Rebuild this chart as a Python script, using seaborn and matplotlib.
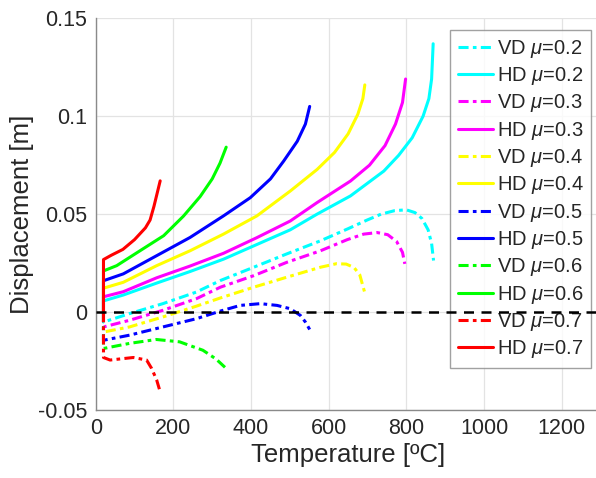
import matplotlib
matplotlib.use("Agg")
import matplotlib.pyplot as plt
import seaborn as sns

# Temperature [ºC] and displacement [m] for each friction coefficient.
# VD = vertical displacement, HD = horizontal displacement.
t_vd_02 = [20, 20, 87, 173, 259, 321, 407, 492, 579, 648, 699, 735, 770, 800, 822, 840, 856, 865, 870]
d_vd_02 = [0, -0.0051, -0.0008, 0.0043, 0.0102, 0.0161, 0.0229, 0.0297, 0.0364, 0.0424,
           0.0470, 0.0500, 0.0518, 0.0522, 0.0508, 0.0478, 0.0420, 0.0350, 0.0263]
t_hd_02 = [20, 20, 71, 157, 243, 329, 415, 501, 570, 656, 742, 780, 815, 843, 858, 865, 869]
d_hd_02 = [0, 0.0057, 0.0087, 0.0148, 0.0207, 0.0270, 0.0345, 0.0420, 0.0500, 0.0593,
           0.0720, 0.0800, 0.0890, 0.1000, 0.1090, 0.1190, 0.1370]

t_vd_03 = [20, 20, 87, 173, 259, 321, 407, 492, 579, 648, 690, 725, 752, 775, 790, 796]
d_vd_03 = [0, -0.0076, -0.0042, 0.0009, 0.0068, 0.0127, 0.0186, 0.0254, 0.0313, 0.0370,
           0.0398, 0.0406, 0.0395, 0.0360, 0.0305, 0.0246]
t_hd_03 = [20, 20, 71, 157, 243, 329, 415, 501, 570, 656, 705, 745, 772, 790, 798]
d_hd_03 = [0, 0.0078, 0.0104, 0.0175, 0.0235, 0.0300, 0.0380, 0.0465, 0.0559, 0.0669,
           0.0750, 0.0850, 0.0960, 0.1070, 0.1190]

t_vd_04 = [20, 20, 87, 173, 259, 321, 407, 492, 579, 620, 645, 665, 680, 692]
d_vd_04 = [0, -0.0102, -0.0076, -0.0025, 0.0030, 0.0072, 0.0127, 0.0178, 0.0229, 0.0247,
           0.0245, 0.0228, 0.0190, 0.0105]
t_hd_04 = [20, 20, 71, 157, 243, 329, 415, 501, 570, 615, 650, 675, 688, 693]
d_hd_04 = [0, 0.0122, 0.0152, 0.0237, 0.0313, 0.0398, 0.0491, 0.0618, 0.0728, 0.0815,
           0.0910, 0.1010, 0.1090, 0.1160]

t_vd_05 = [20, 20, 87, 173, 259, 321, 372, 424, 467, 501, 527, 540, 551]
d_vd_05 = [0, -0.0144, -0.0118, -0.0076, -0.0034, 0.0005, 0.0034, 0.0043, 0.0034, 0.0017,
           -0.0017, -0.0051, -0.0089]
t_hd_05 = [20, 20, 71, 157, 243, 329, 398, 450, 484, 519, 540, 551]
d_hd_05 = [0, 0.0160, 0.0195, 0.0288, 0.0381, 0.0491, 0.0584, 0.0680, 0.0771, 0.0872,
           0.0960, 0.1050]

t_vd_06 = [20, 20, 87, 156, 216, 276, 310, 336]
d_vd_06 = [0, -0.0186, -0.0160, -0.0140, -0.0152, -0.0195, -0.0240, -0.0288]
t_hd_06 = [20, 20, 54, 114, 175, 226, 269, 300, 320, 336]
d_hd_06 = [0, 0.0210, 0.0237, 0.0313, 0.0390, 0.0490, 0.0590, 0.0680, 0.0760, 0.0842]

t_vd_07 = [20, 20, 37, 97, 131, 144, 157, 164]
d_vd_07 = [0, -0.0232, -0.0245, -0.0232, -0.0245, -0.0288, -0.0347, -0.0394]
t_hd_07 = [20, 20, 40, 70, 100, 128, 140, 150, 166]
d_hd_07 = [0, 0.0268, 0.0290, 0.0320, 0.0370, 0.0430, 0.0470, 0.0540, 0.0670]

mu_values = ["0.2", "0.3", "0.4", "0.5", "0.6", "0.7"]
mu_colors = ["#00ffff", "#ff00ff", "#ffff00", "#0000ff", "#00ff00", "#ff0000"]
series = [
    (t_vd_02, d_vd_02, t_hd_02, d_hd_02),
    (t_vd_03, d_vd_03, t_hd_03, d_hd_03),
    (t_vd_04, d_vd_04, t_hd_04, d_hd_04),
    (t_vd_05, d_vd_05, t_hd_05, d_hd_05),
    (t_vd_06, d_vd_06, t_hd_06, d_hd_06),
    (t_vd_07, d_vd_07, t_hd_07, d_hd_07),
]

x_ticks = [0, 200, 400, 600, 800, 1000, 1200]
y_ticks = [-0.05, 0, 0.05, 0.1, 0.15]
y_tick_labels = ["-0.05", "0", "0.05", "0.1", "0.15"]

sns.set_style("white")
plt.rcParams["font.family"] = ["Liberation Sans", "DejaVu Sans"]
plt.rcParams["mathtext.fontset"] = "custom"
plt.rcParams["mathtext.rm"] = "Liberation Sans"
plt.rcParams["mathtext.it"] = "Liberation Sans:italic"

fig = plt.figure(figsize=(5.96, 4.78), dpi=100)
ax = fig.add_axes([0.1606, 0.1423, 0.847, 0.8194])

dashdot = (0, (3.3, 1.4, 1.2, 1.4))
lw = 2.2
for mu, col, (tv, dv, th, dh) in zip(mu_values, mu_colors, series):
    sns.lineplot(x=tv, y=dv, ax=ax, sort=False, estimator=None, color=col,
                 linewidth=lw, linestyle=dashdot, label=rf"VD $\mu$={mu}")
    sns.lineplot(x=th, y=dh, ax=ax, sort=False, estimator=None, color=col,
                 linewidth=lw, linestyle="-", label=rf"HD $\mu$={mu}")

ax.set_xlim(0, 1300)
ax.set_ylim(-0.05, 0.15)
ax.set_xticks(x_ticks)
ax.set_xticklabels([str(v) for v in x_ticks])
ax.set_yticks(y_ticks)
ax.set_yticklabels(y_tick_labels)

ax.grid(True, color="#e3e3e3", linewidth=0.9)
ax.set_axisbelow(True)
for side in ["top", "right"]:
    ax.spines[side].set_visible(False)
for side in ["left", "bottom"]:
    ax.spines[side].set_color("#8a8a8a")
    ax.spines[side].set_linewidth(1.0)
ax.tick_params(axis="both", direction="in", length=4, color="#8a8a8a",
               labelsize=15.5, labelcolor="#262626", pad=6)

ax.set_xlabel("Temperature [ºC]", fontsize=18.5, color="#262626", labelpad=3)
ax.set_ylabel("Displacement [m]", fontsize=18.5, color="#262626", labelpad=3)

leg = ax.legend(loc="upper left", bbox_to_anchor=(450 / 596, 1 - 30 / 478),
                bbox_transform=fig.transFigure, borderaxespad=0, fontsize=14.5,
                handlelength=1.75, handletextpad=0.2, labelspacing=0.265,
                borderpad=0.38, frameon=True, fancybox=False)
leg.get_frame().set_edgecolor("#8a8a8a")
leg.get_frame().set_linewidth(1.0)
for txt in leg.get_texts():
    txt.set_color("#262626")

# zero reference line, drawn above the legend
ax.axhline(0, color="black", linestyle=(0, (4, 3)), linewidth=1.8, zorder=6)

fig.savefig("out.png", dpi=100)
